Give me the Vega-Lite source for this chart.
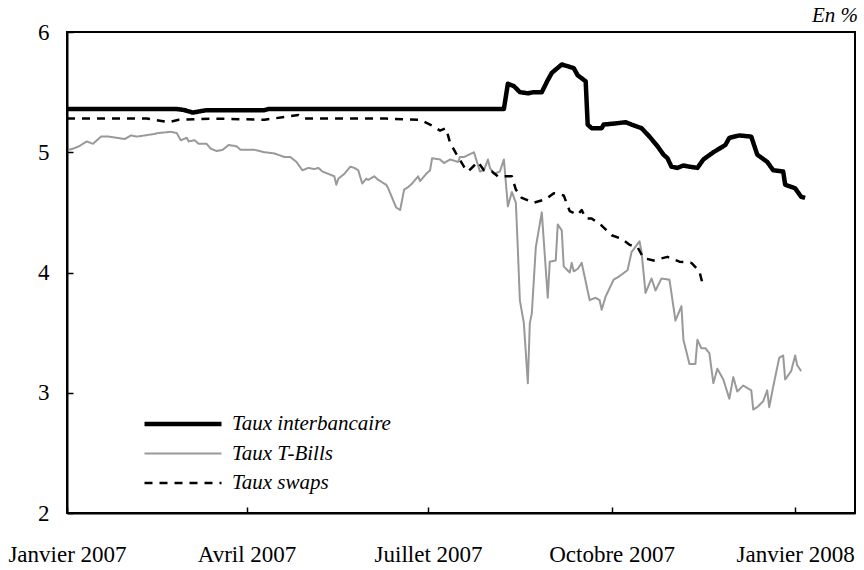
{
  "$schema": "https://vega.github.io/schema/vega-lite/v6.json",
  "width": 788,
  "height": 481,
  "autosize": {"type": "none"},
  "padding": {"left": 67, "top": 32, "right": 9, "bottom": 57},
  "background": "white",
  "config": {
    "view": {"stroke": "black", "strokeWidth": 2},
    "font": "Liberation Serif"
  },
  "title": {"text": "En %", "anchor": "end", "frame": "group", "font": "Liberation Serif", "fontSize": 21, "fontStyle": "italic", "fontWeight": "normal", "color": "black", "offset": -5, "dx": 3},
  "data": {"values": [
    {"series": "Taux interbancaire", "date": "2007-01-01", "value": 5.36},
    {"series": "Taux interbancaire", "date": "2007-02-25", "value": 5.36},
    {"series": "Taux interbancaire", "date": "2007-03-01", "value": 5.35},
    {"series": "Taux interbancaire", "date": "2007-03-05", "value": 5.33},
    {"series": "Taux interbancaire", "date": "2007-03-12", "value": 5.35},
    {"series": "Taux interbancaire", "date": "2007-04-10", "value": 5.35},
    {"series": "Taux interbancaire", "date": "2007-04-12", "value": 5.36},
    {"series": "Taux interbancaire", "date": "2007-08-08", "value": 5.36},
    {"series": "Taux interbancaire", "date": "2007-08-10", "value": 5.57},
    {"series": "Taux interbancaire", "date": "2007-08-13", "value": 5.55},
    {"series": "Taux interbancaire", "date": "2007-08-16", "value": 5.50},
    {"series": "Taux interbancaire", "date": "2007-08-20", "value": 5.49},
    {"series": "Taux interbancaire", "date": "2007-08-23", "value": 5.50},
    {"series": "Taux interbancaire", "date": "2007-08-27", "value": 5.50},
    {"series": "Taux interbancaire", "date": "2007-08-30", "value": 5.60},
    {"series": "Taux interbancaire", "date": "2007-09-01", "value": 5.66},
    {"series": "Taux interbancaire", "date": "2007-09-06", "value": 5.73},
    {"series": "Taux interbancaire", "date": "2007-09-12", "value": 5.70},
    {"series": "Taux interbancaire", "date": "2007-09-14", "value": 5.64},
    {"series": "Taux interbancaire", "date": "2007-09-18", "value": 5.59},
    {"series": "Taux interbancaire", "date": "2007-09-19", "value": 5.23},
    {"series": "Taux interbancaire", "date": "2007-09-21", "value": 5.20},
    {"series": "Taux interbancaire", "date": "2007-09-26", "value": 5.20},
    {"series": "Taux interbancaire", "date": "2007-09-27", "value": 5.23},
    {"series": "Taux interbancaire", "date": "2007-10-03", "value": 5.24},
    {"series": "Taux interbancaire", "date": "2007-10-08", "value": 5.25},
    {"series": "Taux interbancaire", "date": "2007-10-11", "value": 5.23},
    {"series": "Taux interbancaire", "date": "2007-10-16", "value": 5.20},
    {"series": "Taux interbancaire", "date": "2007-10-20", "value": 5.13},
    {"series": "Taux interbancaire", "date": "2007-10-24", "value": 5.05},
    {"series": "Taux interbancaire", "date": "2007-10-27", "value": 4.98},
    {"series": "Taux interbancaire", "date": "2007-10-29", "value": 4.95},
    {"series": "Taux interbancaire", "date": "2007-10-31", "value": 4.88},
    {"series": "Taux interbancaire", "date": "2007-11-03", "value": 4.87},
    {"series": "Taux interbancaire", "date": "2007-11-06", "value": 4.89},
    {"series": "Taux interbancaire", "date": "2007-11-09", "value": 4.88},
    {"series": "Taux interbancaire", "date": "2007-11-13", "value": 4.87},
    {"series": "Taux interbancaire", "date": "2007-11-16", "value": 4.94},
    {"series": "Taux interbancaire", "date": "2007-11-21", "value": 5.00},
    {"series": "Taux interbancaire", "date": "2007-11-25", "value": 5.04},
    {"series": "Taux interbancaire", "date": "2007-11-27", "value": 5.06},
    {"series": "Taux interbancaire", "date": "2007-11-29", "value": 5.12},
    {"series": "Taux interbancaire", "date": "2007-12-04", "value": 5.14},
    {"series": "Taux interbancaire", "date": "2007-12-10", "value": 5.13},
    {"series": "Taux interbancaire", "date": "2007-12-13", "value": 4.98},
    {"series": "Taux interbancaire", "date": "2007-12-18", "value": 4.92},
    {"series": "Taux interbancaire", "date": "2007-12-21", "value": 4.85},
    {"series": "Taux interbancaire", "date": "2007-12-26", "value": 4.84},
    {"series": "Taux interbancaire", "date": "2007-12-27", "value": 4.73},
    {"series": "Taux interbancaire", "date": "2008-01-01", "value": 4.70},
    {"series": "Taux interbancaire", "date": "2008-01-04", "value": 4.63},
    {"series": "Taux interbancaire", "date": "2008-01-06", "value": 4.62},

    {"series": "Taux T-Bills", "date": "2007-01-02", "value": 5.02},
    {"series": "Taux T-Bills", "date": "2007-01-04", "value": 5.03},
    {"series": "Taux T-Bills", "date": "2007-01-07", "value": 5.05},
    {"series": "Taux T-Bills", "date": "2007-01-11", "value": 5.09},
    {"series": "Taux T-Bills", "date": "2007-01-14", "value": 5.07},
    {"series": "Taux T-Bills", "date": "2007-01-18", "value": 5.13},
    {"series": "Taux T-Bills", "date": "2007-01-22", "value": 5.13},
    {"series": "Taux T-Bills", "date": "2007-01-26", "value": 5.12},
    {"series": "Taux T-Bills", "date": "2007-01-30", "value": 5.11},
    {"series": "Taux T-Bills", "date": "2007-02-02", "value": 5.14},
    {"series": "Taux T-Bills", "date": "2007-02-05", "value": 5.13},
    {"series": "Taux T-Bills", "date": "2007-02-09", "value": 5.14},
    {"series": "Taux T-Bills", "date": "2007-02-13", "value": 5.15},
    {"series": "Taux T-Bills", "date": "2007-02-16", "value": 5.16},
    {"series": "Taux T-Bills", "date": "2007-02-22", "value": 5.17},
    {"series": "Taux T-Bills", "date": "2007-02-25", "value": 5.16},
    {"series": "Taux T-Bills", "date": "2007-02-27", "value": 5.10},
    {"series": "Taux T-Bills", "date": "2007-03-02", "value": 5.12},
    {"series": "Taux T-Bills", "date": "2007-03-03", "value": 5.09},
    {"series": "Taux T-Bills", "date": "2007-03-06", "value": 5.10},
    {"series": "Taux T-Bills", "date": "2007-03-08", "value": 5.07},
    {"series": "Taux T-Bills", "date": "2007-03-12", "value": 5.07},
    {"series": "Taux T-Bills", "date": "2007-03-14", "value": 5.03},
    {"series": "Taux T-Bills", "date": "2007-03-17", "value": 5.01},
    {"series": "Taux T-Bills", "date": "2007-03-20", "value": 5.02},
    {"series": "Taux T-Bills", "date": "2007-03-23", "value": 5.06},
    {"series": "Taux T-Bills", "date": "2007-03-27", "value": 5.05},
    {"series": "Taux T-Bills", "date": "2007-03-29", "value": 5.02},
    {"series": "Taux T-Bills", "date": "2007-04-02", "value": 5.02},
    {"series": "Taux T-Bills", "date": "2007-04-05", "value": 5.02},
    {"series": "Taux T-Bills", "date": "2007-04-10", "value": 5.00},
    {"series": "Taux T-Bills", "date": "2007-04-15", "value": 4.99},
    {"series": "Taux T-Bills", "date": "2007-04-20", "value": 4.96},
    {"series": "Taux T-Bills", "date": "2007-04-23", "value": 4.96},
    {"series": "Taux T-Bills", "date": "2007-04-26", "value": 4.92},
    {"series": "Taux T-Bills", "date": "2007-04-29", "value": 4.85},
    {"series": "Taux T-Bills", "date": "2007-05-02", "value": 4.87},
    {"series": "Taux T-Bills", "date": "2007-05-05", "value": 4.86},
    {"series": "Taux T-Bills", "date": "2007-05-07", "value": 4.87},
    {"series": "Taux T-Bills", "date": "2007-05-09", "value": 4.84},
    {"series": "Taux T-Bills", "date": "2007-05-12", "value": 4.82},
    {"series": "Taux T-Bills", "date": "2007-05-15", "value": 4.80},
    {"series": "Taux T-Bills", "date": "2007-05-16", "value": 4.73},
    {"series": "Taux T-Bills", "date": "2007-05-17", "value": 4.78},
    {"series": "Taux T-Bills", "date": "2007-05-20", "value": 4.82},
    {"series": "Taux T-Bills", "date": "2007-05-23", "value": 4.88},
    {"series": "Taux T-Bills", "date": "2007-05-25", "value": 4.87},
    {"series": "Taux T-Bills", "date": "2007-05-27", "value": 4.85},
    {"series": "Taux T-Bills", "date": "2007-05-29", "value": 4.74},
    {"series": "Taux T-Bills", "date": "2007-05-31", "value": 4.78},
    {"series": "Taux T-Bills", "date": "2007-06-01", "value": 4.77},
    {"series": "Taux T-Bills", "date": "2007-06-04", "value": 4.80},
    {"series": "Taux T-Bills", "date": "2007-06-06", "value": 4.77},
    {"series": "Taux T-Bills", "date": "2007-06-10", "value": 4.73},
    {"series": "Taux T-Bills", "date": "2007-06-11", "value": 4.70},
    {"series": "Taux T-Bills", "date": "2007-06-13", "value": 4.62},
    {"series": "Taux T-Bills", "date": "2007-06-15", "value": 4.54},
    {"series": "Taux T-Bills", "date": "2007-06-17", "value": 4.52},
    {"series": "Taux T-Bills", "date": "2007-06-19", "value": 4.69},
    {"series": "Taux T-Bills", "date": "2007-06-21", "value": 4.71},
    {"series": "Taux T-Bills", "date": "2007-06-23", "value": 4.74},
    {"series": "Taux T-Bills", "date": "2007-06-26", "value": 4.80},
    {"series": "Taux T-Bills", "date": "2007-06-27", "value": 4.76},
    {"series": "Taux T-Bills", "date": "2007-06-30", "value": 4.82},
    {"series": "Taux T-Bills", "date": "2007-07-02", "value": 4.85},
    {"series": "Taux T-Bills", "date": "2007-07-03", "value": 4.95},
    {"series": "Taux T-Bills", "date": "2007-07-07", "value": 4.94},
    {"series": "Taux T-Bills", "date": "2007-07-09", "value": 4.91},
    {"series": "Taux T-Bills", "date": "2007-07-12", "value": 4.94},
    {"series": "Taux T-Bills", "date": "2007-07-16", "value": 4.92},
    {"series": "Taux T-Bills", "date": "2007-07-17", "value": 4.96},
    {"series": "Taux T-Bills", "date": "2007-07-19", "value": 4.96},
    {"series": "Taux T-Bills", "date": "2007-07-24", "value": 5.00},
    {"series": "Taux T-Bills", "date": "2007-07-27", "value": 4.84},
    {"series": "Taux T-Bills", "date": "2007-07-29", "value": 4.85},
    {"series": "Taux T-Bills", "date": "2007-07-31", "value": 4.94},
    {"series": "Taux T-Bills", "date": "2007-08-01", "value": 4.87},
    {"series": "Taux T-Bills", "date": "2007-08-03", "value": 4.82},
    {"series": "Taux T-Bills", "date": "2007-08-06", "value": 4.84},
    {"series": "Taux T-Bills", "date": "2007-08-08", "value": 4.94},
    {"series": "Taux T-Bills", "date": "2007-08-10", "value": 4.55},
    {"series": "Taux T-Bills", "date": "2007-08-12", "value": 4.67},
    {"series": "Taux T-Bills", "date": "2007-08-14", "value": 4.58},
    {"series": "Taux T-Bills", "date": "2007-08-15", "value": 4.19},
    {"series": "Taux T-Bills", "date": "2007-08-16", "value": 3.77},
    {"series": "Taux T-Bills", "date": "2007-08-18", "value": 3.58},
    {"series": "Taux T-Bills", "date": "2007-08-20", "value": 3.08},
    {"series": "Taux T-Bills", "date": "2007-08-21", "value": 3.58},
    {"series": "Taux T-Bills", "date": "2007-08-22", "value": 3.66},
    {"series": "Taux T-Bills", "date": "2007-08-24", "value": 4.21},
    {"series": "Taux T-Bills", "date": "2007-08-27", "value": 4.50},
    {"series": "Taux T-Bills", "date": "2007-08-30", "value": 3.79},
    {"series": "Taux T-Bills", "date": "2007-08-31", "value": 4.09},
    {"series": "Taux T-Bills", "date": "2007-09-03", "value": 4.10},
    {"series": "Taux T-Bills", "date": "2007-09-04", "value": 4.40},
    {"series": "Taux T-Bills", "date": "2007-09-06", "value": 4.35},
    {"series": "Taux T-Bills", "date": "2007-09-07", "value": 4.05},
    {"series": "Taux T-Bills", "date": "2007-09-10", "value": 4.00},
    {"series": "Taux T-Bills", "date": "2007-09-11", "value": 4.08},
    {"series": "Taux T-Bills", "date": "2007-09-12", "value": 4.01},
    {"series": "Taux T-Bills", "date": "2007-09-14", "value": 4.03},
    {"series": "Taux T-Bills", "date": "2007-09-16", "value": 4.08},
    {"series": "Taux T-Bills", "date": "2007-09-20", "value": 3.77},
    {"series": "Taux T-Bills", "date": "2007-09-23", "value": 3.79},
    {"series": "Taux T-Bills", "date": "2007-09-25", "value": 3.77},
    {"series": "Taux T-Bills", "date": "2007-09-26", "value": 3.69},
    {"series": "Taux T-Bills", "date": "2007-09-28", "value": 3.80},
    {"series": "Taux T-Bills", "date": "2007-10-02", "value": 3.94},
    {"series": "Taux T-Bills", "date": "2007-10-05", "value": 3.97},
    {"series": "Taux T-Bills", "date": "2007-10-09", "value": 4.02},
    {"series": "Taux T-Bills", "date": "2007-10-11", "value": 4.17},
    {"series": "Taux T-Bills", "date": "2007-10-15", "value": 4.26},
    {"series": "Taux T-Bills", "date": "2007-10-16", "value": 4.17},
    {"series": "Taux T-Bills", "date": "2007-10-18", "value": 3.83},
    {"series": "Taux T-Bills", "date": "2007-10-21", "value": 3.95},
    {"series": "Taux T-Bills", "date": "2007-10-23", "value": 3.85},
    {"series": "Taux T-Bills", "date": "2007-10-26", "value": 3.95},
    {"series": "Taux T-Bills", "date": "2007-10-30", "value": 3.94},
    {"series": "Taux T-Bills", "date": "2007-11-02", "value": 3.60},
    {"series": "Taux T-Bills", "date": "2007-11-05", "value": 3.72},
    {"series": "Taux T-Bills", "date": "2007-11-06", "value": 3.44},
    {"series": "Taux T-Bills", "date": "2007-11-09", "value": 3.24},
    {"series": "Taux T-Bills", "date": "2007-11-12", "value": 3.24},
    {"series": "Taux T-Bills", "date": "2007-11-13", "value": 3.44},
    {"series": "Taux T-Bills", "date": "2007-11-15", "value": 3.37},
    {"series": "Taux T-Bills", "date": "2007-11-17", "value": 3.37},
    {"series": "Taux T-Bills", "date": "2007-11-19", "value": 3.33},
    {"series": "Taux T-Bills", "date": "2007-11-21", "value": 3.08},
    {"series": "Taux T-Bills", "date": "2007-11-23", "value": 3.20},
    {"series": "Taux T-Bills", "date": "2007-11-26", "value": 3.11},
    {"series": "Taux T-Bills", "date": "2007-11-29", "value": 2.95},
    {"series": "Taux T-Bills", "date": "2007-12-01", "value": 3.13},
    {"series": "Taux T-Bills", "date": "2007-12-03", "value": 3.01},
    {"series": "Taux T-Bills", "date": "2007-12-06", "value": 3.06},
    {"series": "Taux T-Bills", "date": "2007-12-10", "value": 3.02},
    {"series": "Taux T-Bills", "date": "2007-12-11", "value": 2.86},
    {"series": "Taux T-Bills", "date": "2007-12-13", "value": 2.88},
    {"series": "Taux T-Bills", "date": "2007-12-16", "value": 2.93},
    {"series": "Taux T-Bills", "date": "2007-12-18", "value": 3.02},
    {"series": "Taux T-Bills", "date": "2007-12-19", "value": 2.88},
    {"series": "Taux T-Bills", "date": "2007-12-21", "value": 3.05},
    {"series": "Taux T-Bills", "date": "2007-12-24", "value": 3.29},
    {"series": "Taux T-Bills", "date": "2007-12-26", "value": 3.31},
    {"series": "Taux T-Bills", "date": "2007-12-27", "value": 3.11},
    {"series": "Taux T-Bills", "date": "2007-12-30", "value": 3.18},
    {"series": "Taux T-Bills", "date": "2008-01-01", "value": 3.31},
    {"series": "Taux T-Bills", "date": "2008-01-02", "value": 3.23},
    {"series": "Taux T-Bills", "date": "2008-01-04", "value": 3.18},

    {"series": "Taux swaps", "date": "2007-01-01", "value": 5.28},
    {"series": "Taux swaps", "date": "2007-01-20", "value": 5.28},
    {"series": "Taux swaps", "date": "2007-02-10", "value": 5.28},
    {"series": "Taux swaps", "date": "2007-02-21", "value": 5.25},
    {"series": "Taux swaps", "date": "2007-02-26", "value": 5.27},
    {"series": "Taux swaps", "date": "2007-03-15", "value": 5.28},
    {"series": "Taux swaps", "date": "2007-04-10", "value": 5.27},
    {"series": "Taux swaps", "date": "2007-04-27", "value": 5.31},
    {"series": "Taux swaps", "date": "2007-04-30", "value": 5.28},
    {"series": "Taux swaps", "date": "2007-05-20", "value": 5.28},
    {"series": "Taux swaps", "date": "2007-06-10", "value": 5.28},
    {"series": "Taux swaps", "date": "2007-06-27", "value": 5.27},
    {"series": "Taux swaps", "date": "2007-07-02", "value": 5.23},
    {"series": "Taux swaps", "date": "2007-07-07", "value": 5.18},
    {"series": "Taux swaps", "date": "2007-07-10", "value": 5.20},
    {"series": "Taux swaps", "date": "2007-07-12", "value": 5.08},
    {"series": "Taux swaps", "date": "2007-07-15", "value": 4.99},
    {"series": "Taux swaps", "date": "2007-07-19", "value": 4.88},
    {"series": "Taux swaps", "date": "2007-07-21", "value": 4.84},
    {"series": "Taux swaps", "date": "2007-07-26", "value": 4.92},
    {"series": "Taux swaps", "date": "2007-07-29", "value": 4.85},
    {"series": "Taux swaps", "date": "2007-08-02", "value": 4.84},
    {"series": "Taux swaps", "date": "2007-08-05", "value": 4.80},
    {"series": "Taux swaps", "date": "2007-08-08", "value": 4.80},
    {"series": "Taux swaps", "date": "2007-08-12", "value": 4.80},
    {"series": "Taux swaps", "date": "2007-08-14", "value": 4.69},
    {"series": "Taux swaps", "date": "2007-08-17", "value": 4.62},
    {"series": "Taux swaps", "date": "2007-08-23", "value": 4.58},
    {"series": "Taux swaps", "date": "2007-08-29", "value": 4.61},
    {"series": "Taux swaps", "date": "2007-09-02", "value": 4.66},
    {"series": "Taux swaps", "date": "2007-09-07", "value": 4.64},
    {"series": "Taux swaps", "date": "2007-09-10", "value": 4.51},
    {"series": "Taux swaps", "date": "2007-09-14", "value": 4.48},
    {"series": "Taux swaps", "date": "2007-09-16", "value": 4.52},
    {"series": "Taux swaps", "date": "2007-09-18", "value": 4.45},
    {"series": "Taux swaps", "date": "2007-09-21", "value": 4.45},
    {"series": "Taux swaps", "date": "2007-09-26", "value": 4.39},
    {"series": "Taux swaps", "date": "2007-10-01", "value": 4.31},
    {"series": "Taux swaps", "date": "2007-10-06", "value": 4.28},
    {"series": "Taux swaps", "date": "2007-10-10", "value": 4.23},
    {"series": "Taux swaps", "date": "2007-10-14", "value": 4.21},
    {"series": "Taux swaps", "date": "2007-10-17", "value": 4.12},
    {"series": "Taux swaps", "date": "2007-10-22", "value": 4.10},
    {"series": "Taux swaps", "date": "2007-10-29", "value": 4.13},
    {"series": "Taux swaps", "date": "2007-11-04", "value": 4.09},
    {"series": "Taux swaps", "date": "2007-11-10", "value": 4.08},
    {"series": "Taux swaps", "date": "2007-11-14", "value": 4.01},
    {"series": "Taux swaps", "date": "2007-11-16", "value": 3.88}
  ]},
  "mark": {"type": "line", "strokeJoin": "round"},
  "encoding": {
    "x": {
      "field": "date", "type": "temporal",
      "scale": {"type": "utc", "domain": [{"year": 2007, "month": 1, "date": 1, "utc": true}, {"year": 2008, "month": 1, "date": 31, "utc": true}]},
      "axis": {
        "title": null, "grid": false,
        "values": [
          {"year": 2007, "month": 1, "date": 1, "utc": true},
          {"year": 2007, "month": 4, "date": 1, "utc": true},
          {"year": 2007, "month": 7, "date": 1, "utc": true},
          {"year": 2007, "month": 10, "date": 1, "utc": true},
          {"year": 2008, "month": 1, "date": 1, "utc": true}
        ],
        "labelExpr": "['Janvier','Février','Mars','Avril','Mai','Juin','Juillet','Août','Septembre','Octobre','Novembre','Décembre'][utcmonth(datum.value)] + ' ' + utcyear(datum.value)",
        "domainColor": "black", "domainWidth": 2,
        "tickColor": "black", "tickWidth": 1.5, "tickSize": -6,
        "labelFont": "Liberation Serif", "labelFontSize": 23, "labelColor": "black",
        "labelFlush": false, "labelOverlap": false, "labelBaseline": "alphabetic",
        "labelPadding": 54
      }
    },
    "y": {
      "field": "value", "type": "quantitative",
      "scale": {"domain": [2, 6], "zero": false, "nice": false},
      "axis": {
        "title": null, "grid": false, "values": [2, 3, 4, 5, 6],
        "domainColor": "black", "domainWidth": 2,
        "tickColor": "black", "tickWidth": 1.5, "tickSize": -6,
        "labelFont": "Liberation Serif", "labelFontSize": 23, "labelColor": "black",
        "labelFlush": false, "labelOverlap": false, "labelPadding": 24
      }
    },
    "color": {
      "field": "series", "type": "nominal",
      "scale": {"domain": ["Taux interbancaire", "Taux T-Bills", "Taux swaps"], "range": ["#000000", "#999999", "#000000"]},
      "legend": {"title": null, "orient": "none", "legendX": 75, "legendY": 381, "symbolType": "stroke", "symbolSize": 5929, "clipHeight": 22, "rowPadding": 7.5, "labelOffset": 8, "padding": 0, "labelFont": "Liberation Serif", "labelFontSize": 21, "labelFontStyle": "italic", "labelColor": "black", "labelLimit": 400}
    },
    "strokeDash": {
      "field": "series", "type": "nominal",
      "scale": {"domain": ["Taux interbancaire", "Taux T-Bills", "Taux swaps"], "range": [[1, 0], [1, 0], [8, 7]]},
      "legend": {"title": null, "orient": "none", "legendX": 75, "legendY": 381, "symbolType": "stroke", "symbolSize": 5929, "clipHeight": 22, "rowPadding": 7.5, "labelOffset": 8, "padding": 0, "labelFont": "Liberation Serif", "labelFontSize": 21, "labelFontStyle": "italic", "labelColor": "black", "labelLimit": 400}
    },
    "strokeWidth": {
      "field": "series", "type": "nominal",
      "scale": {"type": "ordinal", "domain": ["Taux interbancaire", "Taux T-Bills", "Taux swaps"], "range": [4.5, 2, 2.5]},
      "legend": {"title": null, "orient": "none", "legendX": 75, "legendY": 381, "symbolType": "stroke", "symbolSize": 5929, "clipHeight": 22, "rowPadding": 7.5, "labelOffset": 8, "padding": 0, "labelFont": "Liberation Serif", "labelFontSize": 21, "labelFontStyle": "italic", "labelColor": "black", "labelLimit": 400}
    }
  }
}
